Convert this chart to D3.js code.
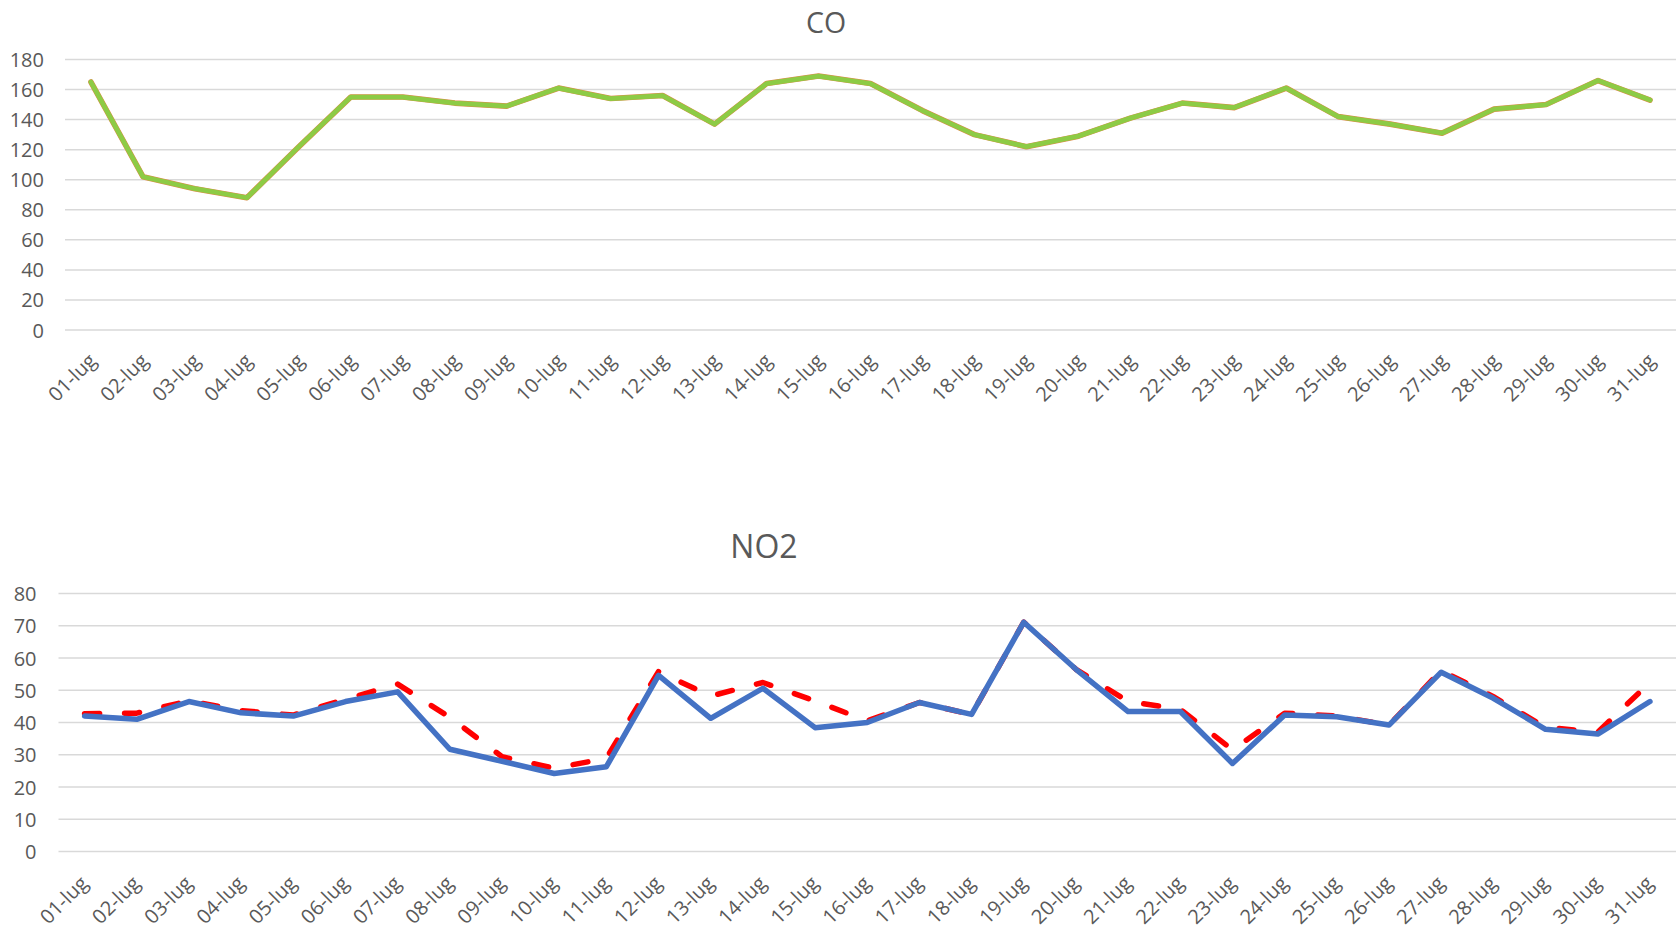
<!DOCTYPE html>
<html>
<head>
<meta charset="utf-8">
<script src="https://cdn.jsdelivr.net/npm/d3@7/dist/d3.min.js"></script>
<style>
  html, body { margin: 0; padding: 0; background: #ffffff; }
  svg { display: block; font-family: "Open Sans", sans-serif; }
  .tick-label { fill: #595959; font-size: 20px; font-family: "Open Sans", sans-serif; }
  .title { fill: #595959; font-family: "Open Sans", sans-serif; }
</style>
</head>
<body>
<svg id="chart" width="1677" height="931"></svg>
<script>
// Days of July
const days = ["01-lug","02-lug","03-lug","04-lug","05-lug","06-lug","07-lug","08-lug","09-lug","10-lug",
  "11-lug","12-lug","13-lug","14-lug","15-lug","16-lug","17-lug","18-lug","19-lug","20-lug",
  "21-lug","22-lug","23-lug","24-lug","25-lug","26-lug","27-lug","28-lug","29-lug","30-lug","31-lug"];

// CO daily values
const coValues = [165,102,94,88,122,155,155,151,149,161,154,156,137,164,169,164,146,130,122,129,
  141,151,148,161,142,137,131,147,150,166,153];

// NO2 daily values (dashed series)
const no2Dashed = [42.7,42.9,46.7,43.7,42.3,47.2,51.9,41.6,29.4,25.8,28.9,55.8,48.2,52.4,46.7,40.5,
  46.2,42.5,71.1,56.5,46.5,44.1,31.5,42.9,42,39.2,56.1,48,38.5,37,52.4];

// NO2 daily values (solid series)
const no2Solid = [42,41,46.5,43,42,46.5,49.5,31.7,28,24.2,26.3,54.6,41.3,50.6,38.4,40,46.2,42.5,
  71.1,56.5,43.4,43.4,27.3,42.3,41.8,39.2,55.6,47.5,37.9,36.4,46.5];

// Axis ticks
const coTicks = [0,20,40,60,80,100,120,140,160,180];
const no2Ticks = [0,10,20,30,40,50,60,70,80];

const svg = d3.select("#chart");

function panel(cfg) {
  const g = svg.append("g");
  const x = d3.scalePoint().domain(days).range([cfg.left, cfg.right]).padding(0.5);
  const y = d3.scaleLinear().domain([0, cfg.max]).range([cfg.bottom, cfg.top]);

  // horizontal gridlines
  g.append("g").selectAll("line").data(cfg.ticks).join("line")
    .attr("x1", cfg.left).attr("x2", cfg.right)
    .attr("y1", d => y(d)).attr("y2", d => y(d))
    .attr("stroke", "#d9d9d9").attr("stroke-width", 1.5);

  // y axis labels
  const yAxis = d3.axisLeft(y).tickValues(cfg.ticks).tickSize(0).tickPadding(0);
  const ya = g.append("g").attr("transform", `translate(${cfg.yLabelX},0)`).call(yAxis)
    .attr("font-family", null).attr("font-size", null);
  ya.select(".domain").remove();
  ya.selectAll("text").attr("class", "tick-label")
    .attr("x", 0).attr("dy", "0.35em");

  // x axis labels, rotated
  const xAxis = d3.axisBottom(x).tickSize(0).tickPadding(0);
  const xa = g.append("g").attr("transform", `translate(0,${cfg.bottom})`).call(xAxis)
    .attr("font-family", null).attr("font-size", null);
  xa.select(".domain").remove();
  xa.selectAll("text").attr("class", "tick-label")
    .attr("y", 0).attr("dy", 0)
    .attr("text-anchor", "end")
    .attr("transform", `translate(${cfg.xLabelDx},${cfg.xLabelDy}) rotate(-45)`);

  // title
  g.append("text").attr("class", "title")
    .attr("x", cfg.titleX).attr("y", cfg.titleY)
    .attr("text-anchor", "middle").attr("font-size", cfg.titleSize)
    .text(cfg.title);

  const line = d3.line().x((d, i) => x(days[i])).y(d => y(d));
  cfg.series.forEach(s => {
    g.append("path").datum(s.values)
      .attr("d", line)
      .attr("fill", "none")
      .attr("stroke", s.color)
      .attr("stroke-width", s.width)
      .attr("stroke-linejoin", "round")
      .attr("stroke-linecap", "round")
      .attr("stroke-dasharray", s.dash || null);
  });
}

panel({
  title: "CO", titleX: 826, titleY: 33, titleSize: "28.5px",
  left: 65, right: 1676, top: 59.5, bottom: 330, max: 180,
  ticks: coTicks, yLabelX: 44, xLabelDx: 6, xLabelDy: 32,
  series: [
    { values: coValues, color: "#E08A4A", width: 5.6 },
    { values: coValues, color: "#8DCB45", width: 4.8 }
  ]
});

panel({
  title: "NO2", titleX: 764, titleY: 558, titleSize: "32px",
  left: 58.5, right: 1676, top: 593.5, bottom: 851.5, max: 80,
  ticks: no2Ticks, yLabelX: 36.5, xLabelDx: 4, xLabelDy: 33,
  series: [
    { values: no2Dashed, color: "#FF0000", width: 5.5, dash: "15,25" },
    { values: no2Solid, color: "#4472C4", width: 5.5 }
  ]
});
</script>
</body>
</html>
